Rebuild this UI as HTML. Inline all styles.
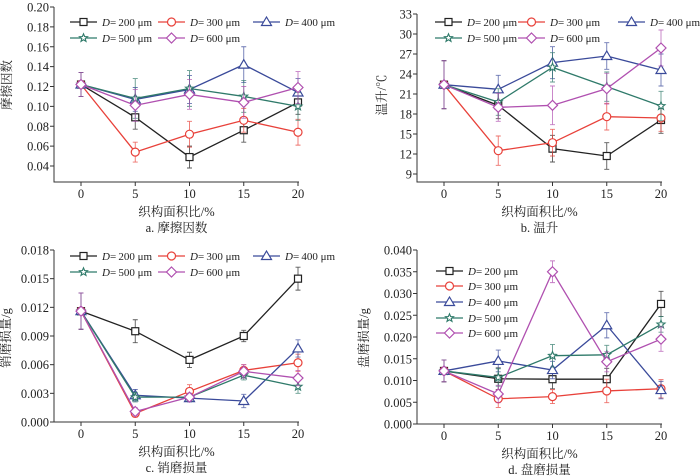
<!DOCTYPE html>
<html><head><meta charset="utf-8"><style>
body{margin:0;background:#fff}
svg{display:block;font-family:"Liberation Serif","Noto Serif CJK SC",serif}
</style></head><body>
<svg id="c" width="700" height="476" viewBox="0 0 700 476" xmlns="http://www.w3.org/2000/svg"></svg>
<script>
const categories=[0,5,10,15,20];
const seriesNames=["200","300","400","500","600"];
const aVals=[[.122,.089,.049,.076,.104],[.122,.054,.072,.086,.074],[.122,.107,.117,.142,.114],[.122,.108,.118,.110,.100],[.122,.101,.112,.104,.119]];
const aErr=[[.012,.012,.011,.012,.012],[.012,.010,.013,.012,.013],[.012,.012,.014,.018,.014],[.012,.020,.018,.016,.014],[.012,.016,.015,.016,.016]];
const bVals=[[22.4,19.3,12.8,11.7,17.1],[22.4,12.5,13.7,17.6,17.4],[22.4,21.7,25.7,26.7,24.6],[22.4,19.8,25.0,22.1,19.2],[22.4,19.0,19.3,21.8,27.9]];
const bErr=[[3.6,2,2,2,2],[3.6,2.2,2,2,2],[3.6,2.1,2.4,2,2.4],[3.6,2,2.2,2.2,2.2],[3.6,2.1,2.9,2.3,2.7]];
const cVals=[[.0116,.0095,.0065,.0090,.0150],[.0116,.0009,.0032,.0054,.0062],[.0116,.0028,.0025,.0022,.0077],[.0116,.0026,.0026,.0049,.0037],[.0116,.0011,.0026,.0053,.0046]];
const cErr=[[.0019,.0012,.0008,.0006,.0012],[.0019,.0004,.0007,.0006,.0009],[.0019,.0006,.0004,.0007,.0009],[.0019,.0005,.0004,.0005,.0007],[.0019,.0004,.0004,.0007,.0008]];
const dVals=[[.0122,.0104,.0103,.0103,.0276],[.0122,.0058,.0063,.0076,.0081],[.0122,.0145,.0124,.0227,.0078],[.0122,.0107,.0157,.0159,.0229],[.0122,.0069,.0350,.0143,.0195]];
const dErr=[[.0025,.0025,.0022,.0025,.0029],[.0025,.0020,.0016,.0027,.0021],[.0025,.0025,.0020,.0029,.0020],[.0025,.0020,.0026,.0022,.0018],[.0025,.0020,.0025,.0023,.0028]];
const aTicks=["0.04","0.06","0.08","0.10","0.12","0.14","0.16","0.18","0.20"];
const bTicks=["9","12","15","18","21","24","27","30","33"];
const cTicks=["0.000","0.003","0.006","0.009","0.012","0.015","0.018"];
const dTicks=["0.000","0.005","0.010","0.015","0.020","0.025","0.030","0.035","0.040"];
const colors=["#222","#e8413a","#3a4a9a","#2f7a6a","#b050b0"];
const markers=["square","circle","triangle","star","diamond"];
const NS="http://www.w3.org/2000/svg";
const svg=document.getElementById('c');
function el(t,a,p){const e=document.createElementNS(NS,t);for(const k in a)e.setAttribute(k,a[k]);(p||svg).appendChild(e);return e;}
function marker(g,type,x,y,col){
 let e;
 if(type=="square")e=el('rect',{x:x-3.5,y:y-3.5,width:7,height:7,fill:'#fff',stroke:col,'stroke-width':1.2},g);
 else if(type=="circle")e=el('circle',{cx:x,cy:y,r:4,fill:'#fff',stroke:col,'stroke-width':1.2},g);
 else if(type=="triangle")e=el('polygon',{points:`${x},${y-5} ${x-5},${y+3.5} ${x+5},${y+3.5}`,fill:'#fff',stroke:col,'stroke-width':1.2},g);
 else if(type=="diamond")e=el('polygon',{points:`${x},${y-5} ${x+5},${y} ${x},${y+5} ${x-5},${y}`,fill:'#fff',stroke:col,'stroke-width':1.2},g);
 else{let p=[];for(let i=0;i<10;i++){const r=i%2?1.8:4.2,an=-Math.PI/2+i*Math.PI/5;p.push((x+r*Math.cos(an)).toFixed(1)+','+(y+r*Math.sin(an)).toFixed(1));}
  e=el('polygon',{points:p.join(' '),fill:'#fff',stroke:col,'stroke-width':1.1},g);}
 
 
}
function panel(o){
 const g=el('g',{});
 
 
 const xs=v=>o.x0+(v-0)/(20)*(o.x1-o.x0);
 const ys=v=>o.pTop+(o.vTop-v)/(o.vTop-o.vBot)*(o.pBot-o.pTop);
 const ax=el('path',{d:`M${o.ax},${o.pTop}V${o.axB}H${o.ax+245}`,stroke:'#333',fill:'none','stroke-width':1},g);
 
 o.ticks.forEach(t=>{const y=ys(parseFloat(t));
  el('line',{x1:o.ax-4,x2:o.ax,y1:y,y2:y,stroke:'#333'},g);
  const tx=el('text',{x:o.ax-5,y:y+4.5,'text-anchor':'end','font-size':12.5,fill:'#222'},g);tx.textContent=t;
  });
 categories.forEach(c=>{const x=xs(c);el('line',{x1:x,x2:x,y1:o.axB,y2:o.axB+4,stroke:'#333'},g);
  const tx=el('text',{x:x,y:o.axB+16,'text-anchor':'middle','font-size':12.5,fill:'#222'},g);tx.textContent=c;
  });
 const xt=el('text',{x:(o.ax+o.ax+245)/2,y:o.axB+34,'text-anchor':'middle','font-size':12.5,fill:'#222'},g);xt.textContent='织构面积比/%';
 
 const cap=el('text',{x:(o.ax+o.ax+245)/2,y:o.axB+50,'text-anchor':'middle','font-size':12.5,fill:'#222'},g);cap.textContent=o.caption;
 
 const yt=el('text',{x:0,y:0,transform:`translate(${o.ytx},${o.yty}) rotate(-90)`,'text-anchor':'middle','font-size':12.5,fill:'#222'},g);yt.textContent=o.ytitle;
 
 o.vals.forEach((s,i)=>{
  const sg=el('g',{},g);
  
  
  s.forEach((v,j)=>{const x=xs(categories[j]),e=o.err[i][j];
   el('path',{d:`M${x},${ys(v-e)}V${ys(v+e)}M${x-2.5},${ys(v-e)}h5M${x-2.5},${ys(v+e)}h5`,stroke:colors[i],'stroke-width':0.9,opacity:0.75,fill:'none'},sg);});
  const ln=el('polyline',{points:s.map((v,j)=>xs(categories[j])+','+ys(v)).join(' '),fill:'none',stroke:colors[i],'stroke-width':1.3},sg);
  
  s.forEach((v,j)=>marker(sg,markers[i],xs(categories[j]),ys(v),colors[i]));
 });
 seriesNames.forEach((n,i)=>{const p=o.leg[i];
  const lg=el('g',{},g);
  
  
  el('line',{x1:p[0],x2:p[0]+27,y1:p[1],y2:p[1],stroke:colors[i],'stroke-width':1.3},lg);
  marker(lg,markers[i],p[0]+13.5,p[1],colors[i]);
  const t=el('text',{x:p[0]+32,y:p[1]+4,'font-size':11,fill:'#222'},lg);
  t.innerHTML='<tspan font-style="italic">D</tspan>=&#8201;'+n+' μm';
 });
}
panel({name:'panel-a',x0:81,x1:298,ax:54,axB:182,pTop:7,pBot:166,vTop:.20,vBot:.04,ticks:aTicks,vals:aVals,err:aErr,caption:'a. 摩擦因数',ytitle:'摩擦因数',ytx:11,yty:85,
 leg:[[70,22],[158,22],[253,22],[70,38],[158,38]]});
panel({name:'panel-b',x0:444,x1:661,ax:417,axB:182,pTop:14,pBot:174,vTop:33,vBot:9,ticks:bTicks,vals:bVals,err:bErr,caption:'b. 温升',ytitle:'温升/℃',ytx:386,yty:95,
 leg:[[435,22],[518,22],[618,22],[435,38],[518,38]]});
panel({name:'panel-c',x0:81,x1:298,ax:54,axB:422,pTop:250,pBot:422,vTop:.018,vBot:0,ticks:cTicks,vals:cVals,err:cErr,caption:'c. 销磨损量',ytitle:'销磨损量/g',ytx:10,yty:338,
 leg:[[70,256],[158,256],[253,256],[70,272],[158,272]]});
panel({name:'panel-d',x0:444,x1:661,ax:417,axB:424,pTop:250,pBot:424,vTop:.04,vBot:0,ticks:dTicks,vals:dVals,err:dErr,caption:'d. 盘磨损量',ytitle:'盘磨损量/g',ytx:368,yty:338,
 leg:[[436,271],[436,286],[436,302],[436,318],[436,333]]});
</script>
</body></html>
